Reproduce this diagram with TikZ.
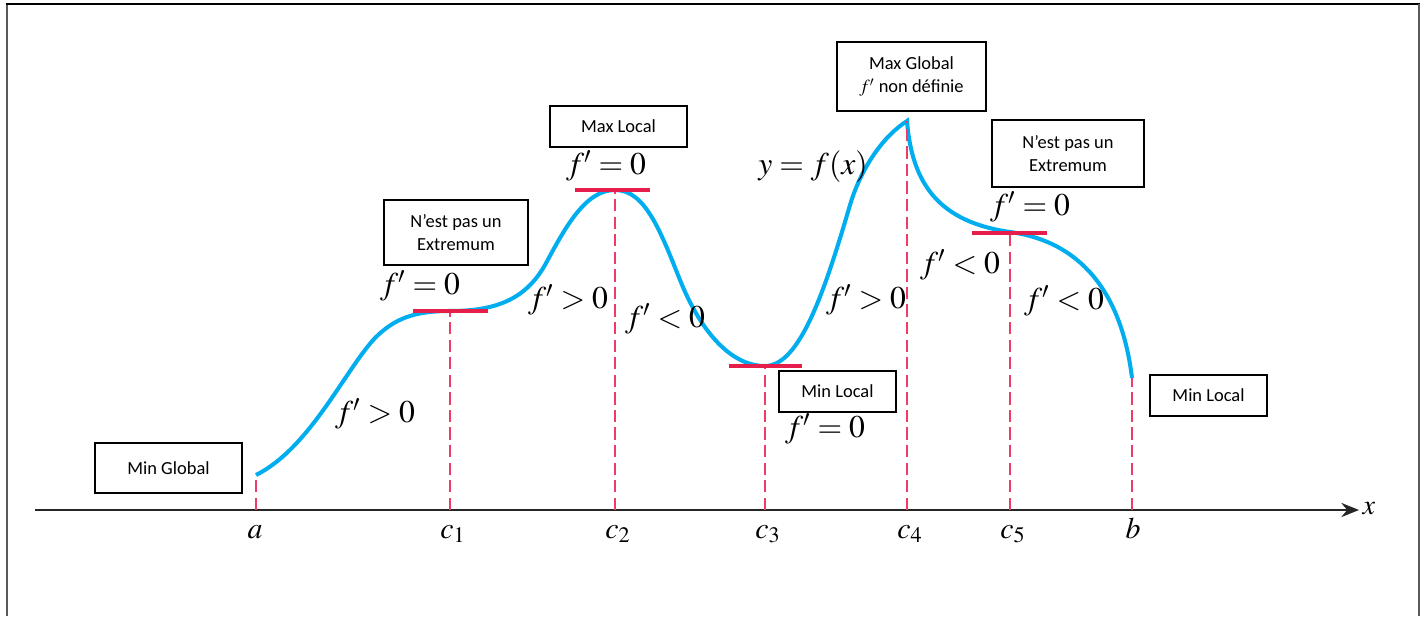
\documentclass[tikz,border=0pt]{standalone}
\usepackage{mathptmx}
\usepackage[no-math]{fontspec}
\setmainfont{Carlito}
\usetikzlibrary{arrows.meta}

\definecolor{bleucourbe}{RGB}{0,174,239}
\definecolor{rougetan}{RGB}{230,30,75}
\definecolor{rougepointe}{RGB}{238,60,105}
\definecolor{griscadre}{RGB}{90,90,90}

\begin{document}
\begin{tikzpicture}[x=0.02cm, y=-0.02cm,
		cadre/.style={draw, line width=0.8pt, fill=white, align=center, inner sep=0pt, font=\fontsize{10.5}{13.5}\selectfont},
		pente/.style={font=\fontsize{18}{20}\selectfont, inner sep=0pt},
		graduation/.style={font=\fontsize{17}{19}\selectfont, inner sep=0pt, anchor=base},
		pointille/.style={rougepointe, line width=1.4pt, dash pattern=on 7pt off 3pt},
		tangente/.style={rougetan, line width=1.8pt},
		courbe/.style={bleucourbe, line width=2.3pt},
		axe/.style={black!85, line width=1.5pt, -{Stealth[length=10pt, width=8pt]}}]
		\useasboundingbox (0,0) rectangle (1426,616);

		% cadre de la page
		\draw [griscadre, line width=1.2pt] (7,616) -- (7,4);
		\draw [black, line width=0.8pt] (6,4) -- (1420,4);
		\draw [griscadre, line width=1.2pt] (1419,4) -- (1419,616);

		% points sur l'axe et sur la courbe
		\coordinate (ta) at (256,510);  \coordinate (pa) at (256,475);
		\coordinate (t1) at (450,510);  \coordinate (p1) at (450,311);
		\coordinate (t2) at (615,510);  \coordinate (p2) at (615,190);
		\coordinate (t3) at (765,510);  \coordinate (p3) at (765,366);
		\coordinate (t4) at (907,510);  \coordinate (p4) at (907,121);
		\coordinate (t5) at (1010,510); \coordinate (p5) at (1010,232);
		\coordinate (tb) at (1132,510); \coordinate (pb) at (1132,378);

		% axe des x
		\coordinate (debut) at (35,510);
		\coordinate (fin) at (1359,510);
		\draw [axe] (debut) -- (fin);
		\node [font=\fontsize{16}{18}\selectfont, inner sep=0pt] (lblx) at (1369,509) {$x$};

		% la courbe y = f(x)
		\draw [courbe] (pa) .. controls (310,448) and (345,370) .. (375,338)
			.. controls (395,318) and (415,311) .. (p1)
			.. controls (495,311) and (525,300) .. (545,265)
			.. controls (565,228) and (585,190) .. (p2)
			.. controls (645,190) and (660,230) .. (680,280)
			.. controls (700,330) and (730,366) .. (p3)
			.. controls (800,366) and (825,290) .. (850,205)
			.. controls (862,165) and (885,135) .. (p4)
			.. controls (912,185) and (940,222) .. (p5)
			.. controls (1070,240) and (1120,280) .. (pb);

		% pointilles verticaux
		\foreach \i in {a,1,2,3,4,5,b}
			\draw [pointille] (t\i) -- (p\i);

		% tangentes horizontales
		\draw [tangente] (413,311) -- (488,311);
		\draw [tangente] (575,190) -- (650,190);
		\draw [tangente] (729,366) -- (802,366);
		\draw [tangente] (972,233) -- (1047,233);

		% graduations
		\node [graduation] (lbla) at (255,538) {$a$};
		\node [graduation] (lbl1) at (453,538) {$c_1$};
		\node [graduation] (lbl2) at (618,538) {$c_2$};
		\node [graduation] (lbl3) at (768,538) {$c_3$};
		\node [graduation] (lbl4) at (910,538) {$c_4$};
		\node [graduation] (lbl5) at (1013,538) {$c_5$};
		\node [graduation] (lblb) at (1133,538) {$b$};

		% signes de la derivee
		\node [pente] (pos1) at (375,414) {$f' > 0$};
		\node [pente] (eq1) at (420,286) {$f' = 0$};
		\node [pente] (pos2) at (568,300) {$f' > 0$};
		\node [pente] (eq2) at (606,166) {$f' = 0$};
		\node [pente] (neg1) at (665,319) {$f' < 0$};
		\node [pente] (eq3) at (825,429) {$f' = 0$};
		\node [pente] (nomf) at (813,167) {$y = f(x)$};
		\node [pente] (pos3) at (866,300) {$f' > 0$};
		\node [pente] (neg2) at (960,265) {$f' < 0$};
		\node [pente] (eq5) at (1030,207) {$f' = 0$};
		\node [pente] (neg3) at (1064,301) {$f' < 0$};

		% encadres
		\node [cadre, minimum width=2.94cm, minimum height=1.0cm] (minglobal) at (168.5,468) {Min Global};
		\node [cadre, minimum width=2.88cm, minimum height=1.3cm] (pasextr1) at (456,232.5) {N’est pas un\\Extremum};
		\node [cadre, minimum width=2.74cm, minimum height=0.82cm] (maxlocal) at (618.5,126.5) {Max Local};
		\node [cadre, minimum width=2.98cm, minimum height=1.38cm] (maxglobal) at (911.5,76.5) {Max Global\\$f'$ non définie};
		\node [cadre, minimum width=3.04cm, minimum height=1.34cm] (pasextr2) at (1068,153.5) {N’est pas un\\Extremum};
		\node [cadre, minimum width=2.34cm, minimum height=0.82cm] (minlocal1) at (837.5,391.5) {Min Local};
		\node [cadre, minimum width=2.34cm, minimum height=0.82cm] (minlocal2) at (1208.5,395.5) {Min Local};
	\end{tikzpicture}
\end{document}
